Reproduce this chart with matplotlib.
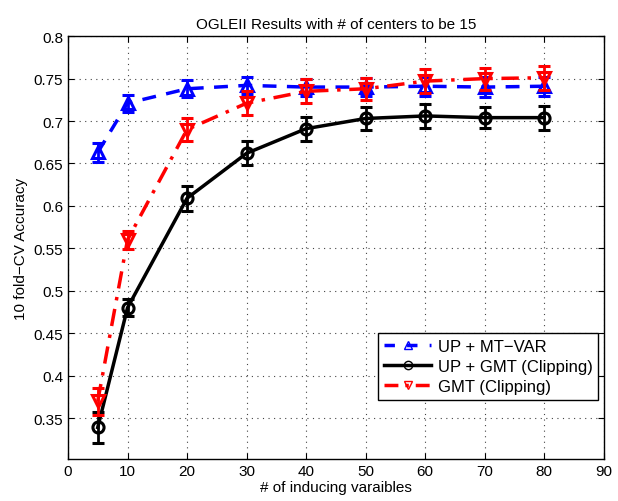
import matplotlib
matplotlib.use("Agg")
import matplotlib.pyplot as plt
from matplotlib.lines import Line2D

plt.rcParams['font.family'] = ['Liberation Sans', 'DejaVu Sans']

n_vars = [5, 10, 20, 30, 40, 50, 60, 70, 80]

mtvar_acc = [0.663, 0.721, 0.738, 0.742, 0.740, 0.740, 0.741, 0.740, 0.741]
mtvar_err = [0.011, 0.010, 0.010, 0.010, 0.010, 0.011, 0.011, 0.012, 0.011]

gmt_up_acc = [0.339, 0.480, 0.609, 0.662, 0.691, 0.703, 0.706, 0.704, 0.704]
gmt_up_err = [0.018, 0.010, 0.015, 0.014, 0.014, 0.013, 0.014, 0.012, 0.014]

gmt_acc = [0.370, 0.560, 0.690, 0.721, 0.735, 0.738, 0.747, 0.750, 0.751]
gmt_err = [0.016, 0.011, 0.014, 0.014, 0.014, 0.013, 0.014, 0.013, 0.014]

labels = ['UP + MT\u2212VAR', 'UP + GMT (Clipping)', 'GMT (Clipping)']

fig = plt.figure(figsize=(6.18, 5.02), dpi=100)
ax = fig.add_axes([0.110, 0.084, 0.867, 0.842])

blue_dash = (4, 3)
red_dashdot = (5, 2.5, 1, 2.5)

ax.errorbar(n_vars, mtvar_acc, yerr=mtvar_err, color='blue', linewidth=2.5,
            marker='^', markersize=8, markerfacecolor='none', markeredgewidth=2.2,
            capsize=4, capthick=2, elinewidth=2, dashes=blue_dash, zorder=3)
ax.errorbar(n_vars, gmt_up_acc, yerr=gmt_up_err, color='black', linestyle='-', linewidth=2.5,
            marker='o', markersize=8, markerfacecolor='none', markeredgewidth=2.2,
            capsize=4, capthick=2, elinewidth=2, zorder=3)
ax.errorbar(n_vars, gmt_acc, yerr=gmt_err, color='red', linewidth=2.5,
            marker='v', markersize=8, markerfacecolor='none', markeredgewidth=2.2,
            capsize=4, capthick=2, elinewidth=2, dashes=red_dashdot, zorder=4)

ax.set_xlim(0, 90)
ax.set_ylim(0.302, 0.8)
ax.set_xticks(range(0, 91, 10))
ax.set_yticks([0.35, 0.4, 0.45, 0.5, 0.55, 0.6, 0.65, 0.7, 0.75, 0.8])
ax.set_yticklabels(['0.35', '0.4', '0.45', '0.5', '0.55', '0.6', '0.65', '0.7', '0.75', '0.8'])
ax.tick_params(direction='in', top=True, right=True, labelsize=11, length=4)
ax.grid(True, color='#444444', linewidth=0.8, dashes=(1, 4))
for s in ax.spines.values():
    s.set_linewidth(1)

ax.set_title('OGLEII Results with # of centers to be 15', fontsize=11)
ax.set_xlabel('# of inducing varaibles', fontsize=11, labelpad=2)
ax.set_ylabel('10 fold\u2212CV Accuracy', fontsize=11)

handles = [
    Line2D([], [], color='blue', linewidth=2.5, dashes=(3, 3.5), marker='^', markersize=6,
           markerfacecolor='none', markeredgewidth=1),
    Line2D([], [], color='black', linewidth=2.5, marker='o', markersize=6,
           markerfacecolor='none', markeredgewidth=1),
    Line2D([], [], color='red', linewidth=2.5, dashes=(4, 2, 1, 2), marker='v', markersize=6,
           markerfacecolor='none', markeredgewidth=1),
]
leg = ax.legend(handles, labels, loc='lower right', bbox_to_anchor=(0.996, 0.132), fontsize=12,
                fancybox=False, edgecolor='black', framealpha=1, handlelength=2.8,
                borderpad=0.35, labelspacing=0.3, handletextpad=0.4, borderaxespad=0.2)
leg.get_frame().set_linewidth(1)

fig.savefig('out.png', dpi=100)
